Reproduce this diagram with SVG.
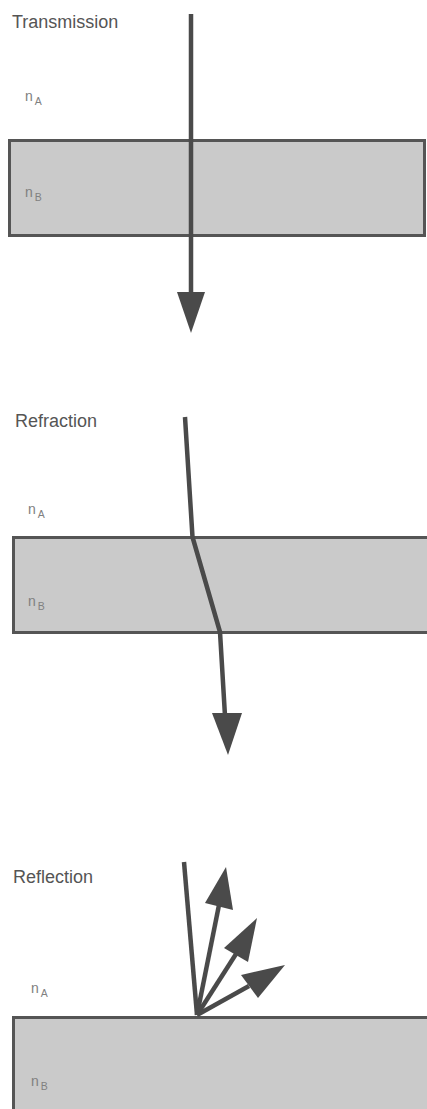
<svg xmlns="http://www.w3.org/2000/svg" width="427" height="1109" viewBox="0 0 427 1109">
<style>
.lbl{font-family:"Liberation Sans",Arial,sans-serif;font-size:18px;fill:#555}
.n{font-family:"Liberation Sans",Arial,sans-serif;font-size:14px;fill:#808080}
.s{font-size:10.5px}
.slab{fill:#cacaca;stroke:#555;stroke-width:3}
.ray{stroke:#4a4a4a;stroke-width:4.5;fill:none;stroke-linejoin:round}
.head{fill:#4a4a4a}
</style>
<rect width="427" height="1109" fill="#fff"/>
<g id="transmission">
<text class="lbl" x="12" y="28">Transmission</text>
<text class="n" x="25" y="101">n<tspan class="s" dx="2" dy="4">A</tspan></text>
<rect class="slab" x="9.5" y="140.5" width="415" height="95"/>
<text class="n" x="25" y="197">n<tspan class="s" dx="2" dy="4">B</tspan></text>
</g>
<g id="refraction">
<text class="lbl" x="15" y="427">Refraction</text>
<text class="n" x="28" y="514">n<tspan class="s" dx="2" dy="4">A</tspan></text>
<rect class="slab" x="13.5" y="537.5" width="420" height="95"/>
<text class="n" x="28" y="606">n<tspan class="s" dx="2" dy="4">B</tspan></text>
</g>
<g id="reflection">
<text class="lbl" x="13" y="883">Reflection</text>
<text class="n" x="31" y="993">n<tspan class="s" dx="2" dy="4">A</tspan></text>
<rect class="slab" x="13.5" y="1017.5" width="420" height="100"/>
<text class="n" x="31" y="1086">n<tspan class="s" dx="2" dy="4">B</tspan></text>
</g>
<g id="connectors">
<line class="ray" x1="191" y1="14" x2="191" y2="296"/>
<polygon class="head" points="177,292 205,292 191,333"/>
<polyline class="ray" points="185,417 192.5,537 220,632 225,716"/>
<polygon class="head" points="212,713 242,713 228,755"/>
<line class="ray" x1="184" y1="862" x2="197" y2="1015"/>
<line class="ray" x1="197" y1="1015" x2="219" y2="905"/>
<polygon class="head" points="205,903 233,910 226,867"/>
<line class="ray" x1="197" y1="1015" x2="236" y2="954"/>
<polygon class="head" points="224,948 248,962 257,918"/>
<line class="ray" x1="197" y1="1015" x2="249" y2="986"/>
<polygon class="head" points="241,975 258,998 285,965"/>
</g>
</svg>
